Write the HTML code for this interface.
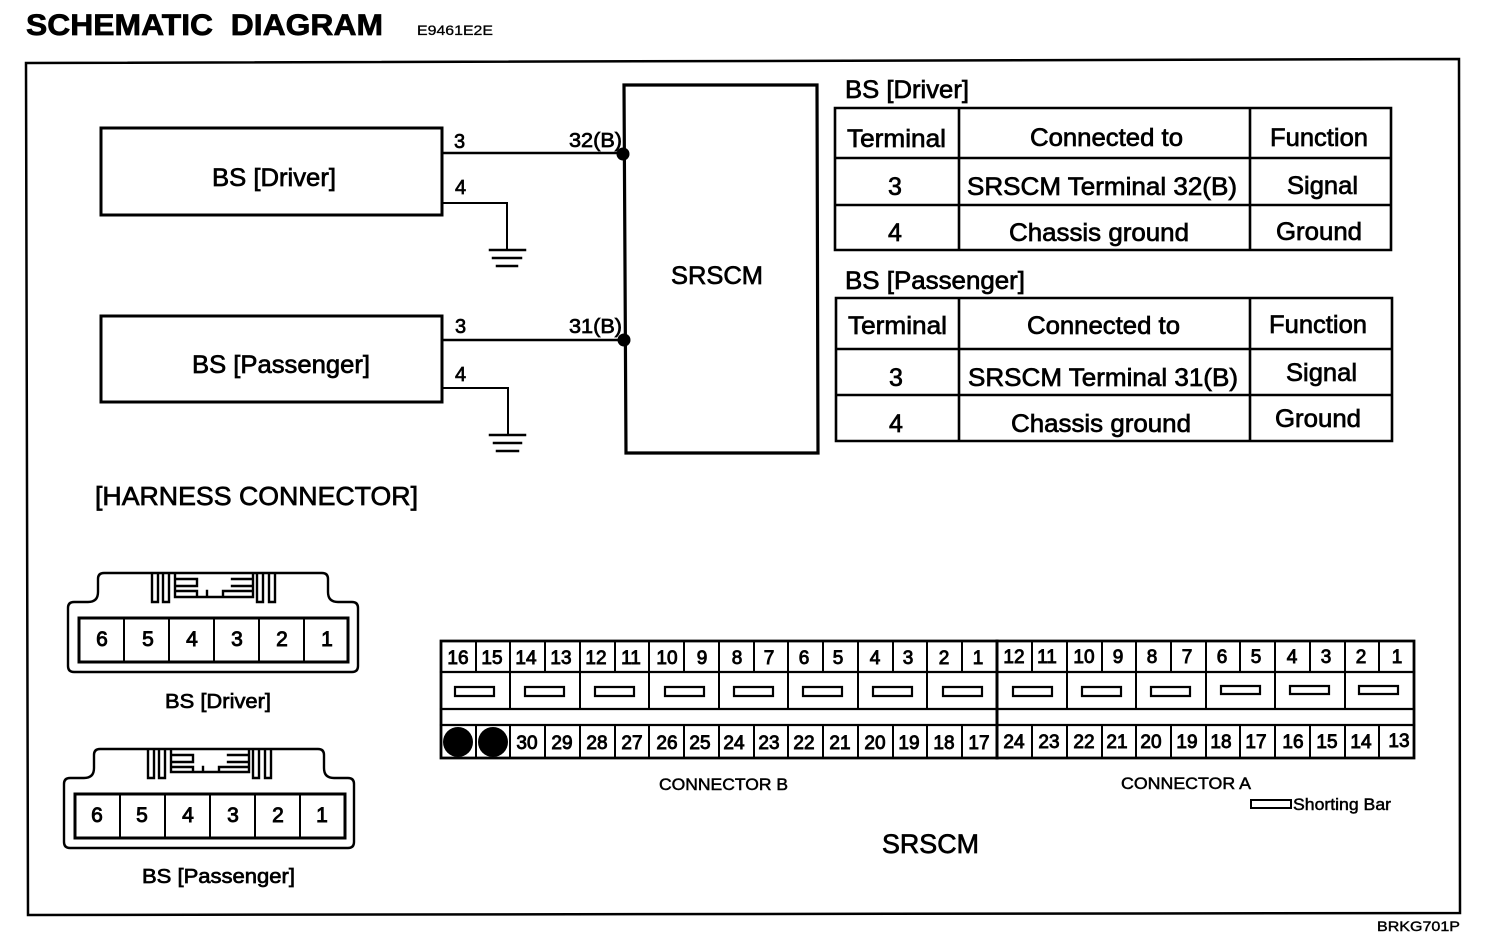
<!DOCTYPE html>
<html><head><meta charset="utf-8"><style>
html,body{margin:0;padding:0;background:#fff;width:1504px;height:940px;overflow:hidden}
svg{display:block}
text{font-family:"Liberation Sans",sans-serif;fill:#000;stroke:#000;stroke-width:.7px}
.n text{font-size:19px;text-anchor:middle;stroke-width:.9px}
.c text{font-size:21px;text-anchor:middle;stroke-width:.9px}
.l{fill:none;stroke:#000;stroke-linecap:square}
</style></head><body>
<svg width="1504" height="940" viewBox="0 0 1504 940" xmlns="http://www.w3.org/2000/svg">
<text x="26" y="35" font-size="30" font-weight="bold" textLength="357" lengthAdjust="spacingAndGlyphs">SCHEMATIC&#160;&#160;DIAGRAM</text>
<text x="417" y="35" font-size="14" textLength="76" lengthAdjust="spacingAndGlyphs" style="stroke-width:.3px">E9461E2E</text>
<path class="l" stroke-width="2.5" d="M26 63L1459 59L1460 913L28 915Z"/>
<text x="1377" y="931" font-size="14" textLength="83" lengthAdjust="spacingAndGlyphs" style="stroke-width:.4px">BRKG701P</text>

<!-- schematic -->
<path class="l" stroke-width="3" d="M101 128H442V215H101Z"/>
<path class="l" stroke-width="3" d="M101 316H442V402H101Z"/>
<path class="l" stroke-width="3.2" d="M624 85H817L818 453H626Z"/>
<path class="l" stroke-width="2.5" d="M442 153H623M442 340H624"/>
<path class="l" stroke-width="2" d="M442 203H507V250M442 388H508V435"/>
<path class="l" stroke-width="2.5" d="M490 250H525M493 258H521M497 266H517M490 435H525M494 443H521M497 451H518"/>
<circle cx="623" cy="154" r="6.5"/><circle cx="624" cy="340" r="6.5"/>
<text x="212" y="186" font-size="25" textLength="124" lengthAdjust="spacingAndGlyphs">BS [Driver]</text>
<text x="192" y="373" font-size="25" textLength="178" lengthAdjust="spacingAndGlyphs">BS [Passenger]</text>
<text x="671" y="284" font-size="25" textLength="92" lengthAdjust="spacingAndGlyphs">SRSCM</text>
<g font-size="20">
<text x="454" y="148">3</text><text x="455" y="194">4</text>
<text x="569" y="147" textLength="53" lengthAdjust="spacingAndGlyphs">32(B)</text>
<text x="455" y="333">3</text><text x="455" y="381">4</text>
<text x="569" y="333" textLength="53" lengthAdjust="spacingAndGlyphs">31(B)</text>
</g>

<!-- tables -->
<text x="845" y="98" font-size="25" textLength="124" lengthAdjust="spacingAndGlyphs">BS [Driver]</text>
<path class="l" stroke-width="2.6" d="M835 108H1391V250H835ZM835 158H1391M835 205H1391M959 108V250M1250 108V250"/>
<g font-size="25">
<text x="847" y="147" textLength="99" lengthAdjust="spacingAndGlyphs">Terminal</text>
<text x="1030" y="146" textLength="153" lengthAdjust="spacingAndGlyphs">Connected to</text>
<text x="1270" y="146" textLength="98" lengthAdjust="spacingAndGlyphs">Function</text>
<text x="888" y="195">3</text>
<text x="967" y="195" textLength="270" lengthAdjust="spacingAndGlyphs">SRSCM Terminal 32(B)</text>
<text x="1287" y="194" textLength="71" lengthAdjust="spacingAndGlyphs">Signal</text>
<text x="888" y="241">4</text>
<text x="1009" y="241" textLength="180" lengthAdjust="spacingAndGlyphs">Chassis ground</text>
<text x="1276" y="240" textLength="86" lengthAdjust="spacingAndGlyphs">Ground</text>
</g>
<text x="845" y="289" font-size="25" textLength="180" lengthAdjust="spacingAndGlyphs">BS [Passenger]</text>
<path class="l" stroke-width="2.6" d="M836 298H1392V441H836ZM836 349H1392M836 395H1392M959 298V441M1250 298V441"/>
<g font-size="25">
<text x="848" y="334" textLength="99" lengthAdjust="spacingAndGlyphs">Terminal</text>
<text x="1027" y="334" textLength="153" lengthAdjust="spacingAndGlyphs">Connected to</text>
<text x="1269" y="333" textLength="98" lengthAdjust="spacingAndGlyphs">Function</text>
<text x="889" y="386">3</text>
<text x="968" y="386" textLength="270" lengthAdjust="spacingAndGlyphs">SRSCM Terminal 31(B)</text>
<text x="1286" y="381" textLength="71" lengthAdjust="spacingAndGlyphs">Signal</text>
<text x="889" y="432">4</text>
<text x="1011" y="432" textLength="180" lengthAdjust="spacingAndGlyphs">Chassis ground</text>
<text x="1275" y="427" textLength="86" lengthAdjust="spacingAndGlyphs">Ground</text>
</g>

<text x="95" y="505" font-size="26" textLength="323" lengthAdjust="spacingAndGlyphs">[HARNESS CONNECTOR]</text>

<!-- BS connectors -->
<g>
<path class="l" stroke-width="2.4" stroke-linejoin="round" d="M104 573H322Q328 573 328 579V592Q328 602 338 602H352Q358 602 358 608V666Q358 672 352 672H74Q68 672 68 666V608Q68 602 74 602H88Q98 602 98 592V579Q98 573 104 573Z"/>
<path class="l" stroke-width="2.4" d="M152 574V602H158V574M163 574V602H169V574M257 574V602H263V574M269 574V602H275V574"/>
<path class="l" stroke-width="2.4" d="M175 574V597H253V574M175 579H197V586H175M175 591H197V597M207 591V597H197M232 579H253M232 586H253M232 591H253M223 597V591H232"/>
<path class="l" stroke-width="3" d="M79 618H348V662H79Z"/>
<path class="l" stroke-width="2" d="M124 618V662M169 618V662M214 618V662M259 618V662M304 618V662"/>
<g class="c"><text x="102" y="646">6</text><text x="148" y="646">5</text><text x="192" y="646">4</text><text x="237" y="646">3</text><text x="282" y="646">2</text><text x="327" y="646">1</text></g>
</g>
<text x="165" y="708" font-size="20" textLength="106" lengthAdjust="spacingAndGlyphs">BS [Driver]</text>
<g>
<path class="l" stroke-width="2.4" stroke-linejoin="round" d="M100 749H318Q324 749 324 755V768Q324 778 334 778H348Q354 778 354 784V842Q354 848 348 848H70Q64 848 64 842V784Q64 778 70 778H84Q94 778 94 768V755Q94 749 100 749Z"/>
<path class="l" stroke-width="2.4" d="M148 750V778H154V750M159 750V778H165V750M253 750V778H259V750M265 750V778H271V750"/>
<path class="l" stroke-width="2.4" d="M171 750V772H249V750M171 755H193V762H171M171 767H193V772M203 767V772H193M228 755H249M228 762H249M228 767H249M219 772V767H228"/>
<path class="l" stroke-width="3" d="M75 794H345V838H75Z"/>
<path class="l" stroke-width="2" d="M120 794V838M165 794V838M210 794V838M255 794V838M300 794V838"/>
<g class="c"><text x="97" y="822">6</text><text x="142" y="822">5</text><text x="188" y="822">4</text><text x="233" y="822">3</text><text x="278" y="822">2</text><text x="322" y="822">1</text></g>
</g>
<text x="142" y="883" font-size="20" textLength="153" lengthAdjust="spacingAndGlyphs">BS [Passenger]</text>

<!-- SRSCM connector grid -->
<path class="l" stroke-width="2.8" d="M441 641H1414V758H441Z"/>
<path class="l" stroke-width="3" d="M997 641V758"/>
<path class="l" stroke-width="2.2" d="M441 672H1414M441 709H1414M441 725H1414"/>
<path class="l" stroke-width="2" d="M476 641V672M510 641V709M545 641V672M580 641V709M615 641V672M649 641V709M684 641V672M719 641V709M754 641V672M788 641V709M823 641V672M858 641V709M893 641V672M927 641V709M962 641V672M1032 641V672M1067 641V709M1102 641V672M1136 641V709M1171 641V672M1206 641V709M1240 641V672M1275 641V709M1310 641V672M1345 641V709M1379 641V672"/>
<path class="l" stroke-width="2" d="M476 725V758M510 725V758M545 725V758M580 725V758M615 725V758M649 725V758M684 725V758M719 725V758M754 725V758M788 725V758M823 725V758M858 725V758M893 725V758M927 725V758M962 725V758M1032 725V758M1067 725V758M1102 725V758M1136 725V758M1171 725V758M1206 725V758M1240 725V758M1275 725V758M1310 725V758M1345 725V758M1379 725V758"/>
<path class="l" stroke-width="2.2" d="M455 687H494V696H455ZM525 687H564V696H525ZM595 687H634V696H595ZM665 687H704V696H665ZM734 687H773V696H734ZM803 687H842V696H803ZM873 687H912V696H873ZM943 687H982V696H943ZM1013 687H1052V696H1013ZM1082 687H1121V696H1082ZM1151 687H1190V696H1151ZM1221 686H1260V694H1221ZM1290 686H1329V694H1290ZM1359 686H1398V694H1359Z"/>
<circle cx="458" cy="742" r="15"/><circle cx="493" cy="742" r="15"/>
<g class="n">
<text x="458" y="664">16</text><text x="492" y="664">15</text><text x="526" y="664">14</text><text x="561" y="664">13</text><text x="596" y="664">12</text><text x="631" y="664">11</text><text x="667" y="664">10</text><text x="702" y="664">9</text><text x="737" y="664">8</text><text x="769" y="664">7</text><text x="804" y="664">6</text><text x="838" y="664">5</text><text x="875" y="664">4</text><text x="908" y="664">3</text><text x="944" y="664">2</text><text x="978" y="664">1</text>
<text x="1014" y="663">12</text><text x="1047" y="663">11</text><text x="1084" y="663">10</text><text x="1118" y="663">9</text><text x="1152" y="663">8</text><text x="1187" y="663">7</text><text x="1222" y="663">6</text><text x="1256" y="663">5</text><text x="1292" y="663">4</text><text x="1326" y="663">3</text><text x="1361" y="663">2</text><text x="1397" y="663">1</text>
<text x="527" y="749">30</text><text x="562" y="749">29</text><text x="597" y="749">28</text><text x="632" y="749">27</text><text x="667" y="749">26</text><text x="700" y="749">25</text><text x="734" y="749">24</text><text x="769" y="749">23</text><text x="804" y="749">22</text><text x="840" y="749">21</text><text x="875" y="749">20</text><text x="909" y="749">19</text><text x="944" y="749">18</text><text x="979" y="749">17</text>
<text x="1014" y="748">24</text><text x="1049" y="748">23</text><text x="1084" y="748">22</text><text x="1117" y="748">21</text><text x="1151" y="748">20</text><text x="1187" y="748">19</text><text x="1221" y="748">18</text><text x="1256" y="748">17</text><text x="1293" y="748">16</text><text x="1327" y="748">15</text><text x="1361" y="748">14</text><text x="1399" y="747">13</text>
</g>
<text x="659" y="790" font-size="17" textLength="129" lengthAdjust="spacingAndGlyphs" style="stroke-width:.5px">CONNECTOR B</text>
<text x="1121" y="789" font-size="17" textLength="130" lengthAdjust="spacingAndGlyphs" style="stroke-width:.5px">CONNECTOR A</text>
<path class="l" stroke-width="2" d="M1251 800H1291V808H1251Z"/>
<text x="1293" y="810" font-size="17" textLength="98" lengthAdjust="spacingAndGlyphs" style="stroke-width:.5px">Shorting Bar</text>
<text x="882" y="853" font-size="27" textLength="97" lengthAdjust="spacingAndGlyphs">SRSCM</text>
</svg>
</body></html>
